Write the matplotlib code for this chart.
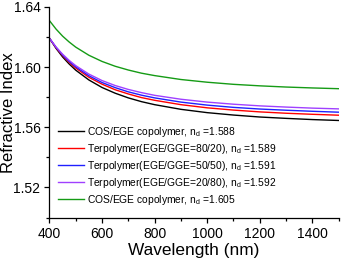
import matplotlib
matplotlib.use("Agg")
import matplotlib.pyplot as plt
from matplotlib.ticker import MultipleLocator

plt.rcParams['font.family'] = ['Liberation Sans', 'DejaVu Sans']
plt.rcParams['mathtext.fontset'] = 'custom'
plt.rcParams['mathtext.rm'] = 'Liberation Sans'

wavelength = [400, 425, 450, 475, 500, 550, 600, 650, 700, 750, 800, 900,
              1000, 1100, 1200, 1300, 1400, 1500]

cos_ege_1588 = [1.6191, 1.6124, 1.6067, 1.6020, 1.5979, 1.5914, 1.5864, 1.5826, 1.5795,
                1.5770, 1.5750, 1.5719, 1.5697, 1.5681, 1.5668, 1.5659, 1.5651, 1.5645]
ter_80_20 = [1.6191, 1.6128, 1.6076, 1.6031, 1.5993, 1.5932, 1.5886, 1.5849, 1.5821,
             1.5797, 1.5779, 1.5750, 1.5729, 1.5714, 1.5702, 1.5693, 1.5686, 1.5680]
ter_50_50 = [1.6191, 1.6131, 1.6080, 1.6037, 1.6001, 1.5942, 1.5897, 1.5863, 1.5835,
             1.5813, 1.5795, 1.5767, 1.5747, 1.5732, 1.5721, 1.5713, 1.5706, 1.5700]
ter_20_80 = [1.6191, 1.6133, 1.6085, 1.6044, 1.6009, 1.5953, 1.5910, 1.5877, 1.5851,
             1.5830, 1.5812, 1.5786, 1.5767, 1.5753, 1.5742, 1.5734, 1.5727, 1.5722]
cos_ege_1605 = [1.6308, 1.6252, 1.6205, 1.6166, 1.6132, 1.6078, 1.6037, 1.6005, 1.5980,
                1.5959, 1.5943, 1.5917, 1.5899, 1.5885, 1.5875, 1.5867, 1.5861, 1.5856]

labels = [
    r"COS/EGE copolymer, n$_\mathregular{d}$ =1.588",
    r"Terpolymer(EGE/GGE=80/20), n$_\mathregular{d}$ =1.589",
    r"Terpolymer(EGE/GGE=50/50), n$_\mathregular{d}$ =1.591",
    r"Terpolymer(EGE/GGE=20/80), n$_\mathregular{d}$ =1.592",
    r"COS/EGE copolymer, n$_\mathregular{d}$ =1.605",
]
series = [cos_ege_1588, ter_80_20, ter_50_50, ter_20_80, cos_ege_1605]
colors = ["#000000", "#ff0000", "#2020ff", "#a040ff", "#159b15"]
ytick_labels = ["1.52", "1.56", "1.60", "1.64"]

fig = plt.figure(figsize=(3.41, 2.60), dpi=100)
ax = fig.add_axes([0.145, 0.163, 0.848, 0.811])

for ys, c, lab in zip(series, colors, labels):
    ax.plot(wavelength, ys, color=c, lw=1.0, label=lab)

ax.set_xlim(400, 1500)
ax.set_ylim(1.50, 1.64)
ax.xaxis.set_major_locator(MultipleLocator(200))
ax.xaxis.set_minor_locator(MultipleLocator(100))
ax.yaxis.set_minor_locator(MultipleLocator(0.02))
ax.set_yticks([float(t) for t in ytick_labels])
ax.set_yticklabels(ytick_labels)

for s in ['top', 'right']:
    ax.spines[s].set_visible(False)
for s in ['left', 'bottom']:
    ax.spines[s].set_linewidth(0.9)

ax.tick_params(which='major', direction='out', length=3.5, width=0.9, labelsize=10, pad=3)
ax.tick_params(which='minor', direction='out', length=2, width=0.9)

ax.set_xlabel("Wavelength (nm)", fontsize=12.4, labelpad=2)
ax.set_ylabel("Refractive Index", fontsize=12)
ax.yaxis.set_label_coords(-0.143, 0.5)
ax.yaxis.label.set_va('center')

leg = ax.legend(loc='lower left', bbox_to_anchor=(0.029, 0.05), frameon=False, fontsize=7.4,
                handlelength=2.5, handletextpad=0.3, labelspacing=0.3, borderaxespad=0,
                borderpad=0)

fig.savefig("out.png", dpi=100)
